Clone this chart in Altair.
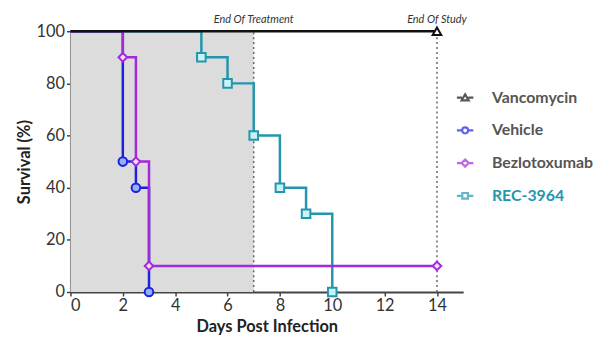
import altair as alt
import pandas as pd

series_names = ["Vancomycin", "Vehicle", "Bezlotoxumab", "REC-3964"]
line_colors = ["#111111", "#1f1fe0", "#a22ad8", "#2396ae"]
fill_colors = ["#ffffff", "#8fb2f2", "#f7dcf7", "#c8f3f6"]
marker_shapes = ["triangle-up", "circle", "diamond", "square"]

# Kaplan-Meier steps (day, survival %)
vanco_days = [0, 14]
vanco_surv = [100, 100]
vehicle_days = [0, 2, 2.5, 3]
vehicle_surv = [100, 50, 40, 0]
bezlo_days = [0, 2, 2.5, 3, 14]
bezlo_surv = [100, 90, 50, 10, 10]
rec_days = [0, 5, 6, 7, 8, 9, 10]
rec_surv = [100, 90, 80, 60, 40, 30, 0]

markers = {
    "Vancomycin": ([14], [100]),
    "Vehicle": ([2, 2.5, 3], [50, 40, 0]),
    "Bezlotoxumab": ([2, 2.5, 3, 14], [90, 50, 10, 10]),
    "REC-3964": ([5, 6, 7, 8, 9, 10], [90, 80, 60, 40, 30, 0]),
}

shade_start, shade_end = [0], [7]
events_day = [7, 14]
events_label = ["End Of Treatment", "End Of Study"]

x_ticks = [0, 2, 4, 6, 8, 10, 12, 14]
y_ticks = [0, 20, 40, 60, 80, 100]

steps = {
    "Vancomycin": (vanco_days, vanco_surv),
    "Vehicle": (vehicle_days, vehicle_surv),
    "Bezlotoxumab": (bezlo_days, bezlo_surv),
    "REC-3964": (rec_days, rec_surv),
}

line_rows = []
for name in ["Vehicle", "REC-3964", "Bezlotoxumab", "Vancomycin"]:
    d, s = steps[name]
    for xi, yi in zip(d, s):
        line_rows.append({"series": name, "day": xi, "surv": yi})
line_df = pd.DataFrame(line_rows)

mark_rows = []
for name in series_names:
    d, s = markers[name]
    for xi, yi in zip(d, s):
        mark_rows.append({"series": name, "day": xi, "surv": yi})
mark_df = pd.DataFrame(mark_rows)

shade_df = pd.DataFrame({"x0": shade_start, "x1": shade_end, "y0": [0], "y1": [100]})
event_df = pd.DataFrame({"day": events_day, "label": events_label, "y0": [0, 0]})
legend_df = pd.DataFrame({"series": series_names})

FONT = "Lato"
xscale = alt.Scale(domain=[0, 15], nice=False)
yscale = alt.Scale(domain=[0, 100], nice=False)

xax = alt.Axis(values=x_ticks, title="Days Post Infection", grid=False, format="d")
yax = alt.Axis(values=y_ticks, title="Survival  (%)", grid=False)

color_scale = alt.Scale(domain=series_names, range=line_colors)

shade = alt.Chart(shade_df).mark_rect(color="#dcdcdc").encode(
    x=alt.X("x0:Q", scale=xscale, axis=xax),
    x2="x1:Q",
    y=alt.Y("y0:Q", scale=yscale, axis=yax),
    y2="y1:Q",
)

rules = alt.Chart(event_df).mark_rule(
    color="#666666", strokeDash=[2, 3], strokeWidth=1.5
).encode(
    x=alt.X("day:Q", scale=xscale),
    y=alt.Y("y0:Q", scale=yscale),
    y2=alt.value(0),
)

labels = alt.Chart(event_df).mark_text(
    font=FONT, fontStyle="italic", fontSize=11, color="#333333", baseline="bottom", dy=-6
).encode(
    x=alt.X("day:Q", scale=xscale),
    y=alt.value(0),
    text="label:N",
)

lines = alt.Chart(line_df).mark_line(interpolate="step-after", strokeWidth=2.5).encode(
    x=alt.X("day:Q", scale=xscale),
    y=alt.Y("surv:Q", scale=yscale),
    color=alt.Color("series:N", scale=color_scale, legend=None),
    detail="series:N",
)

points = alt.Chart(mark_df).mark_point(filled=False, size=75, strokeWidth=2, opacity=1).encode(
    x=alt.X("day:Q", scale=xscale),
    y=alt.Y("surv:Q", scale=yscale),
    shape=alt.Shape("series:N", scale=alt.Scale(domain=series_names, range=marker_shapes), legend=None),
    stroke=alt.Stroke("series:N", scale=alt.Scale(domain=series_names, range=line_colors), legend=None),
    fill=alt.Fill("series:N", scale=alt.Scale(domain=series_names, range=fill_colors), legend=None),
)

# legend symbols: marker with a short line through it
stub = "M-1.4,0L-0.55,0M0.55,0L1.4,0"
legend_paths = [
    stub + "M0,-0.55L0.6,0.45L-0.6,0.45Z",
    stub + "M0.5,0A0.5,0.5 0 1,1 -0.5,0A0.5,0.5 0 1,1 0.5,0Z",
    stub + "M0,-0.6L0.6,0L0,0.6L-0.6,0Z",
    stub + "M-0.48,-0.48L0.48,-0.48L0.48,0.48L-0.48,0.48Z",
]

legend_layer = alt.Chart(legend_df).transform_filter("false").mark_point(
    filled=False, strokeWidth=2
).encode(
    x=alt.X("series:N", axis=None),
    y=alt.value(0),
    color=alt.Color(
        "series:N",
        scale=alt.Scale(domain=series_names, range=line_colors),
        legend=alt.Legend(
            title=None,
            orient="none",
            legendX=390,
            legendY=59,
            labelFont=FONT,
            labelFontSize=16,
            labelFontWeight="bold",
            labelColor={"expr": "datum.label == 'REC-3964' ? '#2396ae' : '#555555'"},
            symbolSize=140,
            symbolStrokeWidth=2.2,
            rowPadding=17,
            labelOffset=19,
        ),
    ),
    shape=alt.Shape(
        "series:N",
        scale=alt.Scale(domain=series_names, range=legend_paths),
        legend=None,
    ),
)

chart = alt.layer(shade, rules, labels, lines, points).properties(
    width=396, height=263
)

chart = alt.layer(chart, legend_layer).resolve_scale(
    shape="independent", color="independent", x="shared"
)

chart = chart.configure_view(stroke=None).configure_axis(
    labelFont=FONT,
    titleFont=FONT,
    labelFontSize=16.5,
    titleFontSize=16.5,
    titleFontWeight="bold",
    labelColor="#333333",
    titleColor="#222222",
    domainColor="#444444",
    domainWidth=2,
    tickColor="#444444",
    tickSize=4,
    tickWidth=1.5,
    labelPadding=2,
).properties(padding={"left": 8, "top": 5, "right": 5, "bottom": 5})

chart.save("out.html", embed_options={"renderer": "svg", "actions": False})
